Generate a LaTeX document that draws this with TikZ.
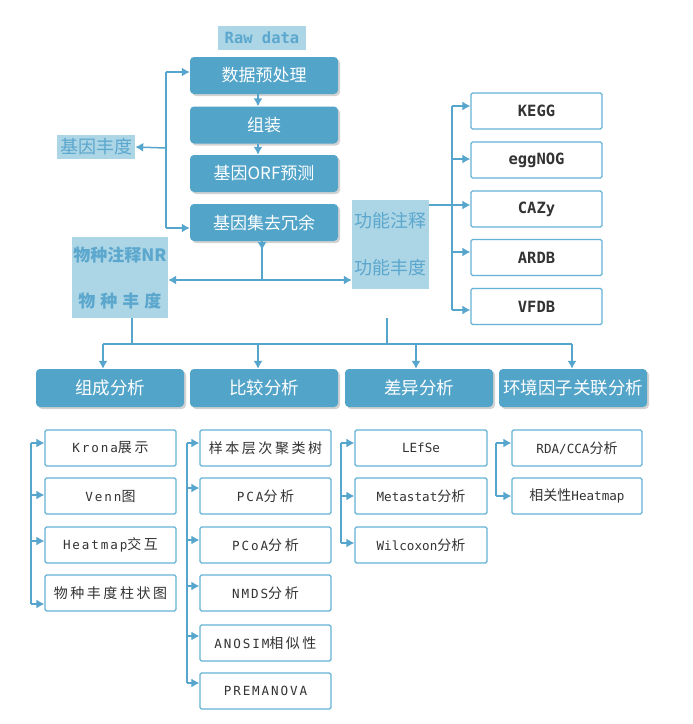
\documentclass[tikz,border=0pt]{standalone}
\usepackage{fontspec}
\setmainfont{Noto Sans CJK SC}
\newfontfamily\cjk{Noto Sans CJK SC}
\newfontfamily\cjksp[LetterSpace=18]{Noto Sans CJK SC}
\newfontfamily\mono{DejaVu Sans Mono}
\newfontfamily\monosp[LetterSpace=15]{DejaVu Sans Mono}
\usetikzlibrary{arrows.meta,shadows}
\definecolor{bfill}{HTML}{52A4C9}
\definecolor{lfill}{HTML}{ACD5E6}
\definecolor{ltext}{HTML}{5BA7CD}
\definecolor{lcol}{HTML}{56A5CC}
\definecolor{wline}{HTML}{64B2D6}
\definecolor{txt}{HTML}{333333}
\newcommand{\lat}[1]{{\mono\fontsize{12.6}{15}\selectfont #1}}
\newcommand{\han}[1]{{\cjk\fontsize{14}{16}\selectfont #1}}
\newcommand{\lats}[1]{{\monosp\fontsize{12.6}{15}\selectfont #1}}
\newcommand{\hans}[1]{{\cjksp\fontsize{14}{16}\selectfont #1}}
\tikzset{
 bluebox/.style={rectangle, rounded corners=4pt, fill=bfill, text=white, minimum width=148pt, minimum height=37pt, inner sep=0pt, font=\cjk\fontsize{17}{20}\selectfont, drop shadow={opacity=0.35,shadow xshift=2pt,shadow yshift=-2pt}},
 lightbox/.style={rectangle, fill=lfill, text=ltext, inner sep=0pt},
 wbox/.style={rectangle, draw=wline, line width=1.2pt, fill=white, text=txt, rounded corners=1.5pt, minimum width=131pt, minimum height=36pt, inner sep=0pt},
 fbox/.style={wbox, font=\mono\bfseries\fontsize{15.5}{18}\selectfont},
 conn/.style={draw=lcol, line width=1.5pt},
 arr/.style={conn, -{Latex[length=8pt,width=9pt]}},
}
\begin{document}
\begin{tikzpicture}[x=1pt,y=-1pt]
\fill[white] (0,0) rectangle (693,724);
\useasboundingbox (0,0) rectangle (693,724);

% top pipeline
\node[lightbox, minimum width=88pt, minimum height=24pt, font=\mono\bfseries\fontsize{15.5}{18}\selectfont] (raw) at (262,38) {Raw data};
\node[bluebox] (pre) at (264,75.5) {数据预处理};
\node[bluebox] (asm) at (264,125) {组装};
\node[bluebox] (orf) at (264,173.5) {基因ORF预测};
\node[bluebox] (red) at (264,222.5) {基因集去冗余};

\node[lightbox, minimum width=78pt, minimum height=24pt, font=\cjk\fontsize{18}{20}\selectfont] (gab) at (96,147) {基因丰度};
\node[lightbox, minimum width=96pt, minimum height=81pt, align=center, font=\cjk\bfseries\fontsize{17}{46}\selectfont] (sp) at (120,277.5) {物种注释NR\\物\hspace{5pt}种\hspace{5pt}丰\hspace{5pt}度};
\node[lightbox, minimum width=77pt, minimum height=89pt, align=center, font=\cjk\fontsize{18}{47}\selectfont] (fn) at (390.5,244.5) {功能注释\\功能丰度};

% function databases
\node[fbox] (kegg) at (536.5,111) {KEGG};
\node[fbox] (egg) at (536.5,160) {eggNOG};
\node[fbox] (cazy) at (536.5,209) {CAZy};
\node[fbox] (ardb) at (536.5,257.5) {ARDB};
\node[fbox] (vfdb) at (536.5,306.5) {VFDB};

% analysis headers
\node[bluebox, minimum height=38pt, font=\cjk\fontsize{17.5}{20}\selectfont] (h1) at (110,388) {组成分析};
\node[bluebox, minimum height=38pt, font=\cjk\fontsize{17.5}{20}\selectfont] (h2) at (264,388) {比较分析};
\node[bluebox, minimum height=38pt, font=\cjk\fontsize{17.5}{20}\selectfont] (h3) at (419,388) {差异分析};
\node[bluebox, minimum height=38pt, font=\cjk\fontsize{17.5}{20}\selectfont] (h4) at (573,388) {环境因子关联分析};

% column 1
\node[wbox] (a1) at (110.5,448) {\lats{Krona}\hans{展示}};
\node[wbox] (a2) at (110.5,496) {\lats{Venn}\han{图}};
\node[wbox] (a3) at (110.5,545) {\lats{Heatmap}\hans{交互}};
\node[wbox] (a4) at (110.5,593) {\hans{物种丰度柱状图}};
% column 2
\node[wbox] (b1) at (265.5,448) {\hans{样本层次聚类树}};
\node[wbox] (b2) at (265.5,496) {\lats{PCA}\hans{分析}};
\node[wbox] (b3) at (265.5,545) {\lats{PCoA}\hans{分析}};
\node[wbox] (b4) at (265.5,593) {\lats{NMDS}\hans{分析}};
\node[wbox] (b5) at (265.5,643) {\lats{ANOSIM}\hans{相似性}};
\node[wbox] (b6) at (265.5,691) {\lats{PREMANOVA}};
% column 3
\node[wbox, minimum width=132pt] (c1) at (421,448) {\lat{LEfSe}};
\node[wbox, minimum width=132pt] (c2) at (421,496) {\lat{Metastat}\han{分析}};
\node[wbox, minimum width=132pt] (c3) at (421,545) {\lat{Wilcoxon}\han{分析}};
% column 4
\node[wbox, minimum width=130pt] (e1) at (577,448) {\lat{RDA/CCA}\han{分析}};
\node[wbox, minimum width=130pt] (e2) at (577,496) {\han{相关性}\lat{Heatmap}};

% connectors: top
\coordinate (lb1) at (166,72);
\coordinate (lb2) at (166,228);
\coordinate (lbm) at (166,148);
\draw[conn] (lb1) -- (lb2);
\draw[arr] (lb1) -- (lb1 -| pre.west);
\draw[arr] (lb2) -- (lb2 -| red.west);
\draw[arr] (lbm) -- (gab.east);
\draw[arr] ([xshift=-6pt]pre.south) -- ([xshift=-6pt]asm.north);
\draw[arr] ([xshift=-6pt]asm.south) -- ([xshift=-6pt]orf.north);

\coordinate (sj) at (262,280);
\draw[conn] ([xshift=-2pt]red.south) -- (sj);
\draw[arr] ([xshift=-2pt]red.south) -- ++(0,9);
\draw[arr] (sj) -- (sj -| sp.east);
\draw[arr] (sj) -- (sj -| fn.west);

% function branch
\coordinate (fj) at (452,205);
\coordinate (ft) at (452,106);
\coordinate (fe) at (452,159);
\coordinate (fa) at (452,252);
\coordinate (fb) at (452,310);
\draw[conn] (fn.east |- fj) -- (fj);
\draw[conn] (ft) -- (fb);
\draw[arr] (ft) -- (ft -| kegg.west);
\draw[arr] (fe) -- (fe -| egg.west);
\draw[arr] (fj) -- (fj -| cazy.west);
\draw[arr] (fa) -- (fa -| ardb.west);
\draw[arr] (fb) -- (fb -| vfdb.west);

% analysis branch
\coordinate (bj1) at (132,344);
\coordinate (fs) at (387,318);
\coordinate (bj2) at (387,344);
\coordinate (bl) at (103,344);
\coordinate (d2) at (258,344);
\coordinate (d3) at (416,344);
\coordinate (br) at (572,344);
\draw[conn] (sp.south -| bj1) -- (bj1);
\draw[conn] (fs) -- (bj2);
\draw[conn] (bl) -- (br);
\draw[arr] (bl) -- (bl |- h1.north);
\draw[arr] (d2) -- (d2 |- h2.north);
\draw[arr] (d3) -- (d3 |- h3.north);
\draw[arr] (br) -- (br |- h4.north);

% column brackets
\coordinate (p1) at (31,443); \coordinate (p2) at (31,495);
\coordinate (p3) at (31,541); \coordinate (p4) at (31,604);
\draw[conn] (p1) -- (p4);
\draw[arr] (p1) -- (p1 -| a1.west);
\draw[arr] (p2) -- (p2 -| a2.west);
\draw[arr] (p3) -- (p3 -| a3.west);
\draw[arr] (p4) -- (p4 -| a4.west);

\coordinate (q1) at (187,443); \coordinate (q2) at (187,488);
\coordinate (q3) at (187,540); \coordinate (q4) at (187,586);
\coordinate (q5) at (187,636); \coordinate (q6) at (187,683);
\draw[conn] (q1) -- (q6);
\draw[arr] (q1) -- (q1 -| b1.west);
\draw[arr] (q2) -- (q2 -| b2.west);
\draw[arr] (q3) -- (q3 -| b3.west);
\draw[arr] (q4) -- (q4 -| b4.west);
\draw[arr] (q5) -- (q5 -| b5.west);
\draw[arr] (q6) -- (q6 -| b6.west);

\coordinate (r1) at (341,443); \coordinate (r2) at (341,496); \coordinate (r3) at (341,543);
\draw[conn] (r1) -- (r3);
\draw[arr] (r1) -- (r1 -| c1.west);
\draw[arr] (r2) -- (r2 -| c2.west);
\draw[arr] (r3) -- (r3 -| c3.west);

\coordinate (s1) at (496,443); \coordinate (s2) at (496,496);
\draw[conn] (s1) -- (s2);
\draw[arr] (s1) -- (s1 -| e1.west);
\draw[arr] (s2) -- (s2 -| e2.west);
\end{tikzpicture}
\end{document}
